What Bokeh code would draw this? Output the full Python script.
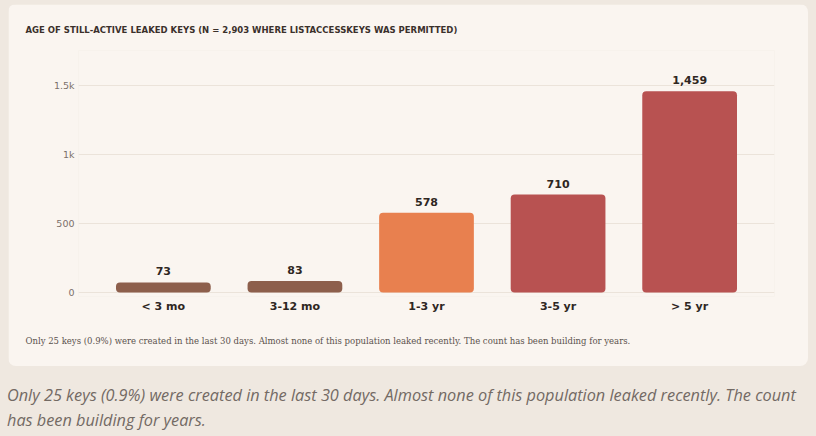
from bokeh.plotting import figure
from bokeh.models import ColumnDataSource, Range1d, FixedTicker, Title, Div, Spacer
from bokeh.layouts import column, row
from bokeh.core.properties import value
from bokeh.embed import file_html
from bokeh.resources import INLINE

categories = ["< 3 mo", "3-12 mo", "1-3 yr", "3-5 yr", "> 5 yr"]
counts = [73, 83, 578, 710, 1459]
count_labels = ["73", "83", "578", "710", "1,459"]
bar_colors = ["#8d5f4c", "#8d5f4c", "#e8804f", "#b85251", "#b85251"]
y_ticks = [0, 500, 1000, 1500]
y_tick_labels = ["0", "500", "1k", "1.5k"]

title_text = "AGE OF STILL-ACTIVE LEAKED KEYS (N = 2,903 WHERE LISTACCESSKEYS WAS PERMITTED)"
note_text = ("Only 25 keys (0.9%) were created in the last 30 days. Almost none of this "
             "population leaked recently. The count has been building for years.")
caption_line1 = ("Only 25 keys (0.9%) were created in the last 30 days. Almost none of this "
                 "population leaked recently. The count")
caption_line2 = "has been building for years."

CARD = "#faf5f0"
PAGE = "#efe8e0"

xs = list(range(len(categories)))
src = ColumnDataSource(dict(x=xs, top=counts, lab=count_labels, color=bar_colors))

p = figure(width=800, height=362, output_backend="svg", toolbar_location=None,
           x_range=Range1d(-0.645, len(categories) - 1 + 0.645),
           y_range=Range1d(-29, 1754),
           min_border_left=70, min_border_right=34, min_border_top=46, min_border_bottom=70)
p.background_fill_color = CARD
p.border_fill_color = CARD
p.outline_line_color = None
p.styles = {"border-radius": "8px", "overflow": "hidden"}

p.title.text = title_text
p.title.align = "left"
p.title.offset = -53
p.title.standoff = 32
p.title.text_font = "DejaVu Sans"
p.title.text_font_style = "bold"
p.title.text_font_size = "8.5px"
p.title.text_color = "#3a302b"

note = Title(text=note_text, align="left", offset=-53, standoff=36,
             text_font="DejaVu Serif", text_font_style="normal", text_font_size="8.5px",
             text_color="#5a524d")
p.add_layout(note, "below")

p.vbar(x="x", top="top", bottom=0, width=0.72, fill_color="color", line_color=None,
       border_radius=4, source=src)
p.text(x="x", y="top", text="lab", source=src, text_align="center", text_baseline="bottom",
       y_offset=-7, text_font=value("DejaVu Sans"), text_font_style="bold",
       text_font_size="11px", text_color="#2e2622")

p.xgrid.grid_line_color = None
p.ygrid.ticker = FixedTicker(ticks=y_ticks)
p.ygrid.grid_line_color = "#ebe3da"
p.ygrid.grid_line_width = 1

p.yaxis.ticker = FixedTicker(ticks=y_ticks)
p.yaxis.major_label_overrides = {t: l for t, l in zip(y_ticks, y_tick_labels)}
p.yaxis.axis_line_color = None
p.yaxis.major_tick_line_color = None
p.yaxis.minor_tick_line_color = None
p.yaxis.major_label_text_font = "DejaVu Sans"
p.yaxis.major_label_text_font_size = "9.5px"
p.yaxis.major_label_text_color = "#7a706a"
p.yaxis.major_label_standoff = -2

p.xaxis.ticker = FixedTicker(ticks=xs)
p.xaxis.major_label_overrides = {i: c for i, c in zip(xs, categories)}
p.xaxis.axis_line_color = None
p.xaxis.major_tick_line_color = None
p.xaxis.minor_tick_line_color = None
p.xaxis.major_label_text_font = "DejaVu Sans"
p.xaxis.major_label_text_font_style = "bold"
p.xaxis.major_label_text_font_size = "11px"
p.xaxis.major_label_text_color = "#2e2622"
p.xaxis.major_label_standoff = -3

cap = Div(text=caption_line1 + "<br>" + caption_line2, width=816, height=70,
          styles={"background-color": PAGE, "font-family": "'Open Sans'", "font-style": "italic",
                  "font-size": "16.3px", "line-height": "25px", "color": "#736a64",
                  "padding-top": "12px", "padding-left": "2px",
                  "box-sizing": "border-box", "white-space": "nowrap"})

bg = {"background-color": PAGE}
layout = column(
    Spacer(width=816, height=4, styles=bg),
    row(Spacer(width=8, height=362, styles=bg), p, Spacer(width=8, height=362, styles=bg),
        spacing=0, styles=bg),
    cap,
    spacing=0, styles=bg)

open("out.html", "w").write(file_html(layout, INLINE))
